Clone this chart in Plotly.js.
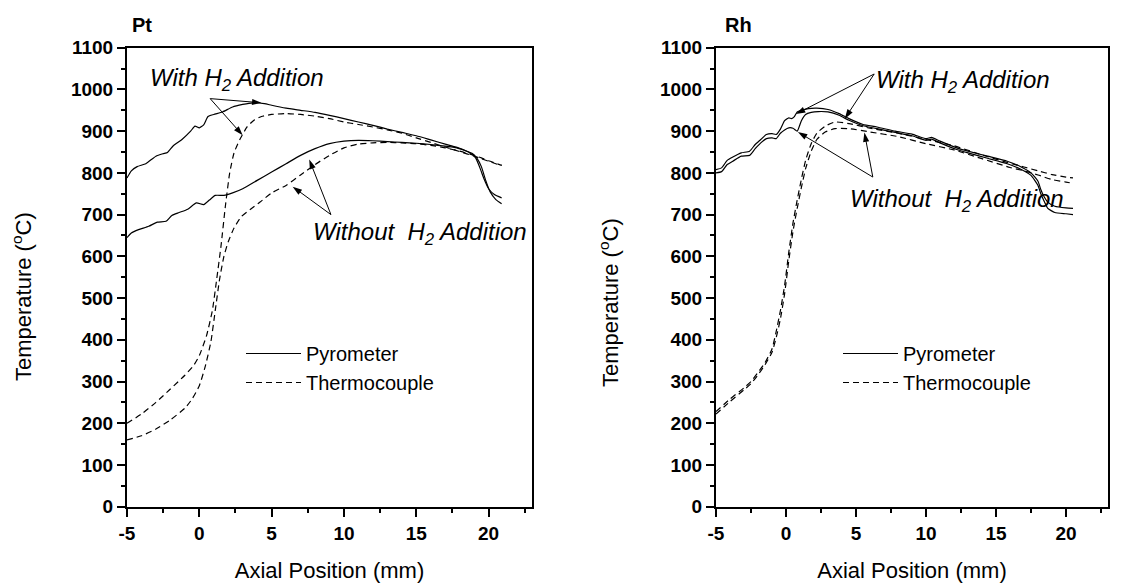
<!DOCTYPE html>
<html><head><meta charset="utf-8">
<script src="https://cdn.plot.ly/plotly-3.0.1.min.js"></script>
<style>html,body{margin:0;padding:0;background:#fff}#chart{width:1139px;height:584px}</style>
</head><body><div id="chart"></div>
<script>
// ---------- Pt panel data (axial position mm, temperature C) ----------
const ptWithPyroX = [-5,-4.7,-4.3,-3.7,-3,-2.5,-2.2,-1.8,-1.2,-0.6,-0.3,0,0.3,0.6,1,1.6,2.3,3,3.7,4.5,5,6,7,8,9,10,11,12,13,14,15,16,17,17.5,18,18.7,19.1,19.4,19.7,20,20.4,20.9];
const ptWithPyroT = [788,805,815,822,840,846,849,865,880,900,912,908,915,935,940,946,958,964,968,966,962,955,950,945,938,930,922,914,905,897,889,879,869,864,859,848,836,812,784,762,748,740];

const ptWithTcX = [-5,-4,-3,-2,-1,-0.4,0,0.5,0.9,1.2,1.5,1.8,2.1,2.4,2.8,3.3,3.8,4.3,5,6,7,8,9,10,11,12,13,14,15,16,17,18,19,19.5,20,20.5,20.9];
const ptWithTcT = [200,222,250,282,315,338,362,410,470,545,625,720,800,848,880,910,927,935,940,942,940,936,930,922,916,910,903,895,884,873,862,851,840,834,828,822,818];

const ptWoPyroX = [-5,-4.7,-4.2,-3.5,-2.9,-2.3,-1.9,-1.4,-0.8,-0.2,0.3,0.7,1.1,1.7,2.3,3,4,5,6,7,8,9,10,11,12,13,14,15,16,17,17.8,18.4,18.9,19.2,19.5,19.8,20.1,20.5,20.9];
const ptWoPyroT = [645,656,664,672,682,684,698,705,713,728,724,735,746,746,752,762,782,802,822,842,858,870,876,878,877,875,873,871,868,864,860,853,846,835,815,782,755,736,726];

const ptWoTcX = [-5,-4,-3,-2,-1,-0.5,0,0.4,0.8,1.1,1.4,1.7,2.0,2.4,2.9,3.5,4.2,5,6,7,8,9,10,11,12,13,14,15,16,17,18,19,19.5,20,20.5,20.9];
const ptWoTcT = [160,170,186,208,236,258,290,335,395,470,545,600,635,668,695,712,730,752,770,795,820,842,860,869,872,873,872,870,866,860,852,842,836,829,823,818];

// ---------- Rh panel data ----------
const rhWithPyroX = [-5,-4.6,-4.2,-3.8,-3.2,-2.6,-2.2,-1.8,-1.4,-1.0,-0.7,-0.4,-0.1,0.2,0.4,0.6,0.8,1.1,1.6,2.2,3,3.8,4.5,5.5,6.5,7.8,9,10,10.4,11,12.2,13,14.4,15.8,16.7,17.5,18,18.2,18.4,18.7,19.2,20,20.5];
const rhWithPyroT = [808,812,830,838,848,852,868,880,892,894,892,905,925,932,930,935,946,950,954,955,952,942,930,916,910,900,893,882,885,876,860,852,840,828,816,800,780,760,745,730,720,716,715];

const rhWoPyroX = [-5,-4.6,-4.2,-3.8,-3.2,-2.6,-2.2,-1.8,-1.4,-1.0,-0.7,-0.4,-0.1,0.2,0.5,0.8,1.1,1.4,1.8,2.3,3,3.8,4.5,5.5,6.5,7.8,9,10,10.4,11,12.2,13,14.4,15.8,16.7,17.5,18,18.2,18.4,18.7,19.2,20,20.5];
const rhWoPyroT = [800,803,820,828,840,842,858,872,882,884,882,895,903,908,907,900,925,940,945,947,946,938,926,913,906,897,889,878,881,872,856,848,835,822,810,794,770,750,735,715,705,702,700];

const rhWithTcX = [-5,-4,-3,-2.5,-2,-1.5,-1,-0.7,-0.4,-0.1,0.2,0.5,0.8,1.1,1.4,1.8,2.2,2.8,3.5,4.5,6,8,10,12,14,16,17,18,19,20,20.5];
const rhWithTcT = [228,258,285,300,322,345,378,420,470,530,610,680,735,785,830,870,895,912,922,918,907,895,880,865,843,823,814,805,796,790,788];

const rhWoTcX = [-5,-4,-3,-2.5,-2,-1.5,-1,-0.7,-0.4,-0.1,0.2,0.5,0.8,1.1,1.4,1.8,2.2,2.8,3.5,4.5,6,8,10,12,14,16,17,18,19,20,20.5];
const rhWoTcT = [222,252,280,295,316,340,370,405,450,510,590,660,715,765,810,852,880,898,906,906,898,887,870,855,834,813,805,795,784,778,775];

// ---------- callout arrows: [tailX, headX] / [tailT, headT] ----------
const ptArrowsX = [[0.75, 4.3], [0.75, 3.0], [9.1, 7.6], [9.1, 6.45]];
const ptArrowsT = [[978, 968], [978, 890], [700, 832], [700, 767]];
const rhArrowsX = [[6.3, 0.7], [6.3, 4.2], [6.2, 0.85], [6.2, 5.6]];
const rhArrowsT = [[1037, 941], [1037, 930], [790, 898], [790, 897]];

// ---------- axis tick labels ----------
const xTickVals = [-5,0,5,10,15,20];
const xTickText = ['-5','0','5','10','15','20'];
const yTickVals = [0,100,200,300,400,500,600,700,800,900,1000,1100];
const yTickText = yTickVals.map(String);

const legendNames = ['Pyrometer','Thermocouple'];
const panelTitles = ['Pt','Rh'];
const xTitle = 'Axial Position (mm)';
const yTitle = 'Temperature (<sup>o</sup>C)';
const withLabel = '<i>With H<sub>2</sub> Addition</i>';
const withoutLabel = '<i>Without\u00a0 H<sub>2</sub> Addition</i>';

const FONT = 'Liberation Sans, Arial, Helvetica, sans-serif';
const LW = 1.2;
const DASH = '6px,4px';

function tr(x, y, xa, ya, dash, name, show, leg) {
  return {x: x, y: y, xaxis: xa, yaxis: ya, type: 'scatter', mode: 'lines',
    line: {color: '#000', width: LW, dash: dash, shape: 'spline', smoothing: 0.5},
    name: name, showlegend: show, legend: leg, hoverinfo: 'skip'};
}
function arrowTrace(xs, ys, xa, ya) {
  return {x: xs, y: ys, xaxis: xa, yaxis: ya, type: 'scatter', mode: 'lines+markers',
    line: {color: '#000', width: 1}, showlegend: false, hoverinfo: 'skip',
    marker: {symbol: 'arrow', size: 10, angleref: 'previous', color: '#000', line: {width: 0}}};
}

const data = [
  tr(ptWithPyroX, ptWithPyroT, 'x', 'y', 'solid', legendNames[0], true, 'legend'),
  tr(ptWithTcX, ptWithTcT, 'x', 'y', DASH, legendNames[1], true, 'legend'),
  tr(ptWoPyroX, ptWoPyroT, 'x', 'y', 'solid', legendNames[0], false, 'legend'),
  tr(ptWoTcX, ptWoTcT, 'x', 'y', DASH, legendNames[1], false, 'legend'),
  tr(rhWithPyroX, rhWithPyroT, 'x2', 'y2', 'solid', legendNames[0], true, 'legend2'),
  tr(rhWithTcX, rhWithTcT, 'x2', 'y2', DASH, legendNames[1], true, 'legend2'),
  tr(rhWoPyroX, rhWoPyroT, 'x2', 'y2', 'solid', legendNames[0], false, 'legend2'),
  tr(rhWoTcX, rhWoTcT, 'x2', 'y2', DASH, legendNames[1], false, 'legend2')
];
ptArrowsX.forEach((ax, i) => data.push(arrowTrace(ax, ptArrowsT[i], 'x', 'y')));
rhArrowsX.forEach((ax, i) => data.push(arrowTrace(ax, rhArrowsT[i], 'x2', 'y2')));

const W = 1139, H = 584;
const yDom = [(H - 506.7) / H, (H - 47.7) / H];
const xDomL = [127 / W, 532 / W];
const xDomR = [716 / W, 1108 / W];
const TICKFONT = {family: FONT, size: 19, color: '#000', weight: 700};

function xAxis(dom, anchor) {
  return {domain: dom, anchor: anchor, range: [-5, 23], showline: true, mirror: true,
    linecolor: '#000', linewidth: 2, showgrid: false, zeroline: false,
    ticks: 'outside', ticklen: 8, tickwidth: 2, tickcolor: '#000',
    tickmode: 'array', tickvals: xTickVals, ticktext: xTickText, tickfont: TICKFONT,
    minor: {tickmode: 'linear', tick0: -5, dtick: 2.5, ticks: 'outside', ticklen: 4, tickwidth: 2, tickcolor: '#000', showgrid: false},
    title: {text: xTitle, standoff: 20, font: {family: FONT, size: 22, color: '#000'}},
    fixedrange: true};
}
function yAxis(dom, anchor) {
  return {domain: dom, anchor: anchor, range: [0, 1100], showline: true, mirror: true,
    linecolor: '#000', linewidth: 2, showgrid: false, zeroline: false,
    ticks: 'outside', ticklen: 8, tickwidth: 2, tickcolor: '#000',
    tickmode: 'array', tickvals: yTickVals, ticktext: yTickText, tickfont: TICKFONT,
    minor: {tickmode: 'linear', tick0: 0, dtick: 50, ticks: 'outside', ticklen: 4, tickwidth: 2, tickcolor: '#000', showgrid: false},
    fixedrange: true};
}
// overlay axes that only carry the inward ticks on the top and right frame edges
function xTop(over, anchor) {
  return {overlaying: over, anchor: anchor, side: 'top', range: [-5, 23], showline: false,
    showgrid: false, zeroline: false, showticklabels: false,
    ticks: 'inside', ticklen: 8, tickwidth: 2, tickcolor: '#000', tickmode: 'linear', tick0: 0, dtick: 5,
    minor: {tickmode: 'linear', tick0: -5, dtick: 2.5, ticks: 'inside', ticklen: 4, tickwidth: 2, tickcolor: '#000'},
    fixedrange: true};
}
function yRight(over, anchor) {
  return {overlaying: over, anchor: anchor, side: 'right', range: [0, 1100], showline: false,
    showgrid: false, zeroline: false, showticklabels: false,
    ticks: 'inside', ticklen: 8, tickwidth: 2, tickcolor: '#000', tickmode: 'linear', tick0: 0, dtick: 100,
    minor: {tickmode: 'linear', tick0: 0, dtick: 50, ticks: 'inside', ticklen: 4, tickwidth: 2, tickcolor: '#000'},
    fixedrange: true};
}

function label(xr, yr, x, y, txt) {
  return {xref: xr, yref: yr, x: x, y: y, xanchor: 'left', yanchor: 'middle', text: txt,
    showarrow: false, font: {family: FONT, size: 24, color: '#000'}};
}
function paperText(x, y, txt, size, bold, angle, xanchor) {
  return {xref: 'paper', yref: 'paper', x: x / W, y: (H - y) / H, text: txt, showarrow: false,
    xanchor: xanchor || 'center', yanchor: 'middle', textangle: angle || 0,
    font: {family: FONT, size: size, color: '#000', weight: bold ? 700 : 400}};
}

const annotations = [
  label('x', 'y', -3.56, 1024, withLabel),
  label('x', 'y', 7.7, 654, withoutLabel),
  label('x2', 'y2', 6.27, 1020, withLabel),
  label('x2', 'y2', 4.45, 735, withoutLabel),
  paperText(22, 297, yTitle, 22, false, -90),
  paperText(609, 303, yTitle, 22, false, -90),
  paperText(130, 25, panelTitles[0], 20, true, 0, 'left'),
  paperText(723, 25, panelTitles[1], 20, true, 0, 'left')
];

const legendCommon = {xanchor: 'left', yanchor: 'top', bgcolor: 'rgba(0,0,0,0)', borderwidth: 0,
  font: {family: FONT, size: 20, color: '#000'}, tracegroupgap: 0, itemwidth: 55};

const layout = {
  width: W, height: H, margin: {l: 0, r: 0, t: 0, b: 0},
  paper_bgcolor: '#fff', plot_bgcolor: 'rgba(0,0,0,0)',
  font: {family: FONT, color: '#000'},
  xaxis: xAxis(xDomL, 'y'), yaxis: yAxis(yDom, 'x'),
  xaxis2: xAxis(xDomR, 'y2'), yaxis2: yAxis(yDom, 'x2'),
  xaxis3: xTop('x', 'y'), yaxis3: yRight('y', 'x'),
  xaxis4: xTop('x2', 'y2'), yaxis4: yRight('y2', 'x2'),
  legend: Object.assign({x: 241 / W, y: (H - 334) / H}, legendCommon),
  legend2: Object.assign({x: 838 / W, y: (H - 334) / H}, legendCommon),
  annotations: annotations,
  showlegend: true
};

Plotly.newPlot('chart', data, layout, {staticPlot: true, displayModeBar: false});
</script>
</body></html>
